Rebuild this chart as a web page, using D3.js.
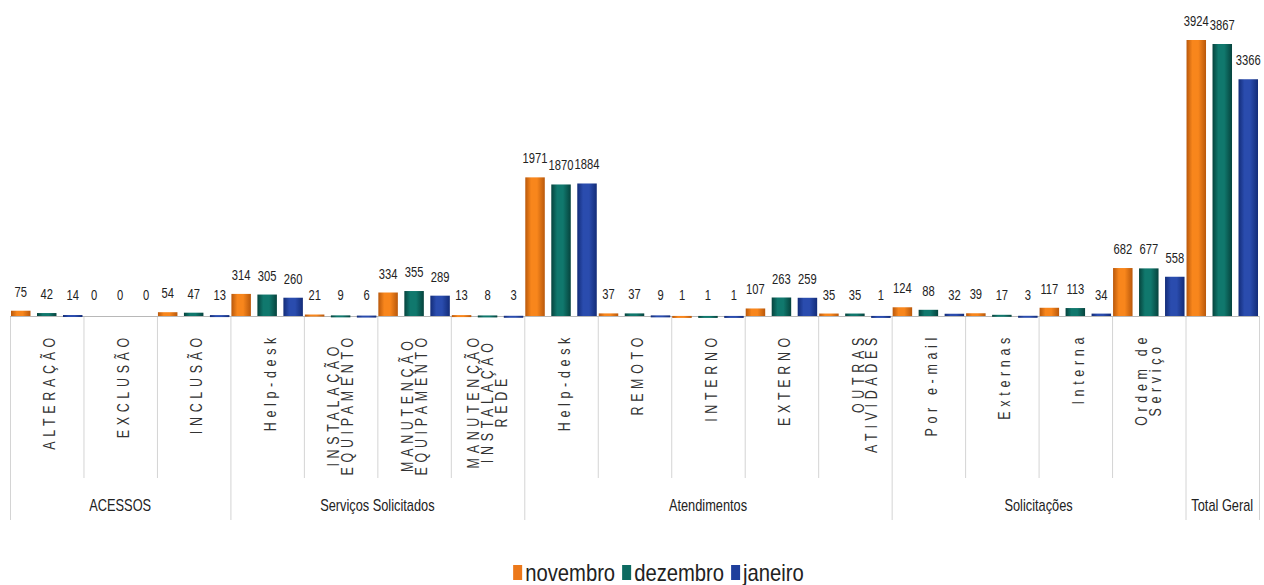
<!DOCTYPE html>
<html>
<head>
<meta charset="utf-8">
<script src="https://cdn.jsdelivr.net/npm/d3@7"></script>
<style>
  html, body { margin: 0; padding: 0; background: #fff; }
  svg { display: block; }
  text { font-family: "Liberation Sans", Arial, sans-serif; fill: #222; }
</style>
</head>
<body>
<svg id="chart" width="1264" height="585"></svg>
<script>
// ---- data ----
const categoryLabels = [
  ["ALTERAÇÃO"], ["EXCLUSÃO"], ["INCLUSÃO"],
  ["Help-desk"], ["INSTALAÇÃO", "EQUIPAMENTO"], ["MANUTENÇÃO", "EQUIPAMENTO"], ["MANUTENÇÃO", "INSTALAÇÃO", "REDE"],
  ["Help-desk"], ["REMOTO"], ["INTERNO"], ["EXTERNO"], ["OUTRAS", "ATIVIDADES"],
  ["Por e-mail"], ["Externas"], ["Interna"], ["Ordem de", "Serviço"],
  []
];
const labelAlign = ["c","c","c","c","c","c","c","c","c","c","c","t","c","c","c","c","c"];
const groupNames = ["ACESSOS", "Serviços Solicitados", "Atendimentos", "Solicitações", "Total Geral"];
const groupSizes = [3, 4, 5, 4, 1];
const seriesNames = ["novembro", "dezembro", "janeiro"];
const novembro = [75, 0, 54, 314, 21, 334, 13, 1971, 37, 1, 107, 35, 124, 39, 117, 682, 3924];
const dezembro = [42, 0, 47, 305, 9, 355, 8, 1870, 37, 1, 263, 35, 88, 17, 113, 677, 3867];
const janeiro  = [14, 0, 13, 260, 6, 289, 3, 1884, 9, 1, 259, 1, 32, 3, 34, 558, 3366];
const seriesValues = [novembro, dezembro, janeiro];

// ---- layout ----
const svg = d3.select("#chart");
const left = 10, right = 1259, baseY = 316;
const narrow = 0.8;
const colors = [
  { dark: "#b9580b", light: "#f8861c" },
  { dark: "#06433d", light: "#10786d" },
  { dark: "#132c78", light: "#2a4cae" }
];
const legendColors = ["#ec781a", "#0d6a61", "#1f3f9c"];

const idx = d3.range(categoryLabels.length);
const x0 = d3.scaleBand().domain(idx).range([left, right]).paddingInner(0).paddingOuter(0);
const x1 = d3.scaleBand().domain(d3.range(3)).range([1, x0.bandwidth() - 1]).paddingInner(0.25).paddingOuter(0);
const y = d3.scaleLinear().domain([0, 3924]).range([baseY, 40]);

// gradients
const defs = svg.append("defs");
colors.forEach((c, i) => {
  const g = defs.append("linearGradient").attr("id", "g" + i).attr("x1", "0").attr("x2", "1").attr("y1", "0").attr("y2", "0");
  g.append("stop").attr("offset", "0").attr("stop-color", c.dark);
  g.append("stop").attr("offset", "0.3").attr("stop-color", c.light);
  g.append("stop").attr("offset", "0.6").attr("stop-color", c.light);
  g.append("stop").attr("offset", "1").attr("stop-color", c.dark);
});

// group boundaries
const groupStarts = [];
let acc = 0;
groupSizes.forEach(s => { groupStarts.push(acc); acc += s; });
const groupBoundaryIdx = new Set(groupStarts.concat([categoryLabels.length]));

// separator lines
const gridColor = "#d4d4d4";
d3.range(categoryLabels.length + 1).forEach(i => {
  const xx = i < categoryLabels.length ? x0(i) : right;
  const isGroup = groupBoundaryIdx.has(i);
  svg.append("line")
    .attr("x1", xx + 0.5).attr("x2", xx + 0.5)
    .attr("y1", baseY).attr("y2", isGroup ? 520 : 478)
    .attr("stroke", gridColor).attr("stroke-width", 1);
});

// baseline
svg.append("line").attr("x1", left).attr("x2", right).attr("y1", baseY + 0.5).attr("y2", baseY + 0.5)
  .attr("stroke", "#b8b8b8").attr("stroke-width", 1);

// bars
seriesValues.forEach((vals, s) => {
  svg.append("g").selectAll("rect").data(vals).join("rect")
    .attr("x", (d, i) => x0(i) + x1(s))
    .attr("width", x1.bandwidth())
    .attr("y", d => y(d))
    .attr("height", d => Math.max(baseY - y(d), d > 0 ? 2 : 0))
    .attr("fill", `url(#g${s})`);
  svg.append("g").selectAll("text").data(vals).join("text")
    .attr("transform", (d, i) => `translate(${x0(i) + x1(s) + x1.bandwidth() / 2},${Math.min(y(d), baseY - 2) - 14}) scale(${narrow},1)`)
    .attr("text-anchor", "middle")
    .attr("font-size", 14)
    .text(d => d);
});

// category labels
const lineGap = 14;
const topY = 333;
const labelScale = 0.78;
categoryLabels.forEach((lines, i) => {
  if (!lines.length) return;
  const shift = lines.length === 1 ? 3 : (labelAlign[i] === "t" ? 10 : 0);
  const cx = x0(i) + x0.bandwidth() / 2 + shift;
  const g = svg.append("g").attr("transform", `translate(${cx},${topY}) rotate(-90) scale(${labelScale},1)`);
  const texts = lines.map((ln, k) => g.append("text")
    .attr("text-anchor", "end")
    .attr("dominant-baseline", "central")
    .attr("y", (k - (lines.length - 1) / 2) * lineGap)
    .attr("font-size", 16)
    .attr("letter-spacing", "6px")
    .style("fill", "#333")
    .text(ln));
  const lens = texts.map(t => t.node().getComputedTextLength());
  const maxLen = d3.max(lens);
  texts.forEach((t, k) => {
    const off = labelAlign[i] === "t" ? 0 : (maxLen - lens[k]) / 2;
    t.attr("x", -off);
  });
});

// group labels
groupNames.forEach((name, gi) => {
  const a = x0(groupStarts[gi]);
  const bIdx = groupStarts[gi] + groupSizes[gi];
  const b = bIdx < categoryLabels.length ? x0(bIdx) : right;
  svg.append("text")
    .attr("transform", `translate(${(a + b) / 2},505) scale(${narrow},1)`)
    .attr("text-anchor", "middle").attr("dominant-baseline", "central")
    .attr("font-size", 16)
    .text(name);
});

// legend
const legend = svg.append("g");
const legendScale = 0.88;
let lx = 0;
seriesNames.forEach((n, i) => {
  const g = legend.append("g").attr("transform", `translate(${lx},0)`);
  g.append("rect").attr("x", 0).attr("y", -8).attr("width", 9).attr("height", 15).attr("fill", legendColors[i]);
  const t = g.append("text")
    .attr("transform", `translate(12,0) scale(${legendScale},1)`)
    .attr("dominant-baseline", "central").attr("font-size", 23).text(n);
  const w = 12 + t.node().getComputedTextLength() * legendScale;
  lx += w + 7;
});
const totalW = lx - 7;
legend.attr("transform", `translate(${658.5 - totalW / 2},573)`);
</script>
</body>
</html>
